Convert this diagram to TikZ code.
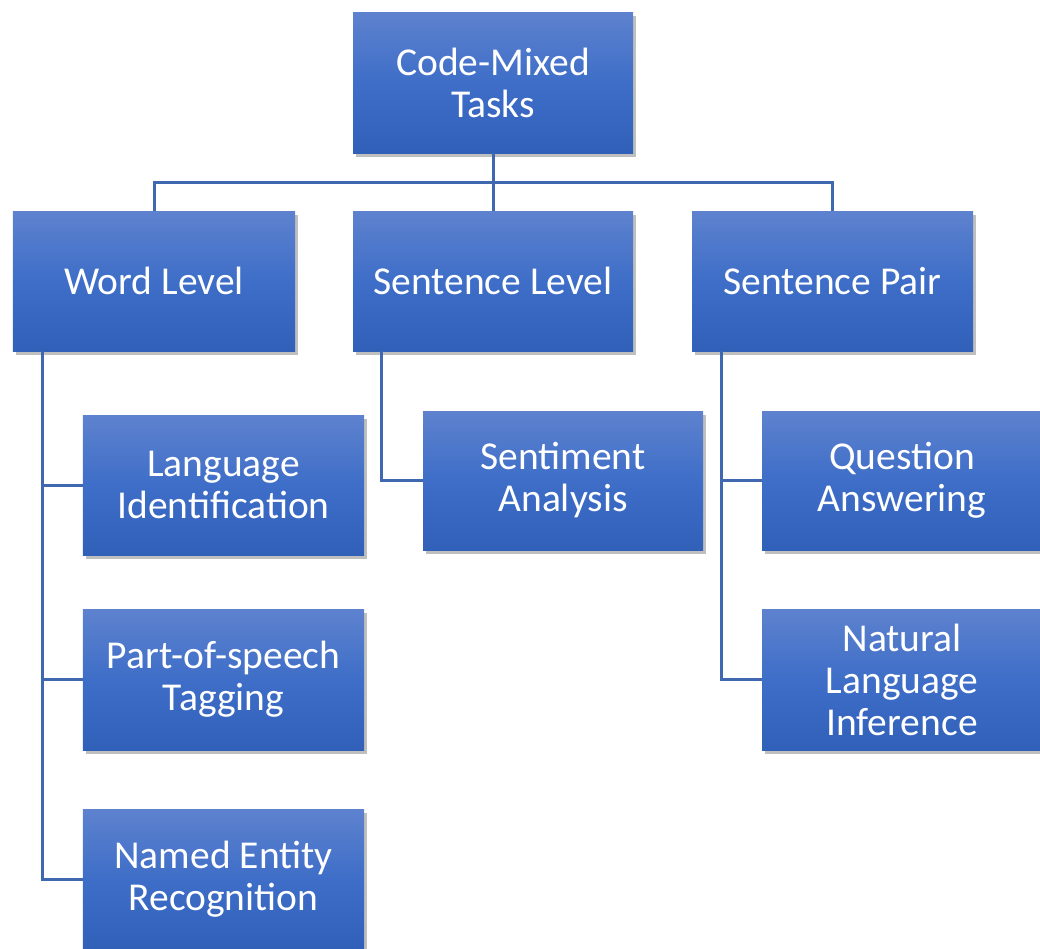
\documentclass[tikz,border=0pt]{standalone}
\usepackage{fontspec}
\setmainfont{Carlito}
\usetikzlibrary{shadows}
\definecolor{boxtop}{RGB}{94,130,206}
\definecolor{boxmid}{RGB}{62,110,200}
\definecolor{boxbot}{RGB}{48,96,184}
\definecolor{linkc}{RGB}{64,104,176}
\tikzset{
  taskbox/.style={rectangle, inner sep=0pt, text=white, align=center,
    top color=boxtop, bottom color=boxbot, middle color=boxmid,
    drop shadow={shadow xshift=3bp, shadow yshift=-4bp, opacity=0.25, fill=black},
    font=\fontsize{39.5bp}{42bp}\selectfont},
  link/.style={draw=linkc, line width=3bp}
}
\begin{document}
\begin{tikzpicture}[x=1bp, y=-1bp]
\useasboundingbox (0,0) rectangle (1040,949);
\clip (0,0) rectangle (1040,949);
% boxes
\node[taskbox, minimum width=280bp, minimum height=141bp] (root) at (493,82.5) {Code-Mixed\\Tasks};
\node[taskbox, minimum width=282bp, minimum height=140bp] (word) at (154,281) {Word Level};
\node[taskbox, minimum width=280bp, minimum height=140bp] (sent) at (493,281) {Sentence Level};
\node[taskbox, minimum width=281bp, minimum height=140bp] (pair) at (832.5,281) {Sentence Pair};
\node[taskbox, minimum width=281bp, minimum height=140bp] (lid) at (223.5,485) {Language\\Identification};
\node[taskbox, minimum width=281bp, minimum height=141bp] (pos) at (223.5,679.5) {Part-of-speech\\Tagging};
\node[taskbox, minimum width=281bp, minimum height=140bp] (ner) at (223.5,879) {Named Entity\\Recognition};
\node[taskbox, minimum width=280bp, minimum height=139bp] (sa) at (563,480.5) {Sentiment\\Analysis};
\node[taskbox, minimum width=280bp, minimum height=139bp] (qa) at (902,480.5) {Question\\Answering};
\node[taskbox, minimum width=280bp, minimum height=141bp] (nli) at (902,679.5) {Natural\\Language\\Inference};
% connectors
\coordinate (bus) at (493,182);
\draw[link] (root.south) -- (bus);
\draw[link] (word.north) |- (bus) -| (pair.north);
\draw[link] (bus) -- (sent.north);
\coordinate (wtrunk) at (42,351);
\draw[link] (wtrunk) |- (lid.west);
\draw[link] (wtrunk) |- (pos.west);
\draw[link] (wtrunk) |- (ner.west);
\coordinate (strunk) at (381,351);
\draw[link] (strunk) |- (sa.west);
\coordinate (ptrunk) at (721,351);
\draw[link] (ptrunk) |- (qa.west);
\draw[link] (ptrunk) |- (nli.west);
\end{tikzpicture}
\end{document}
